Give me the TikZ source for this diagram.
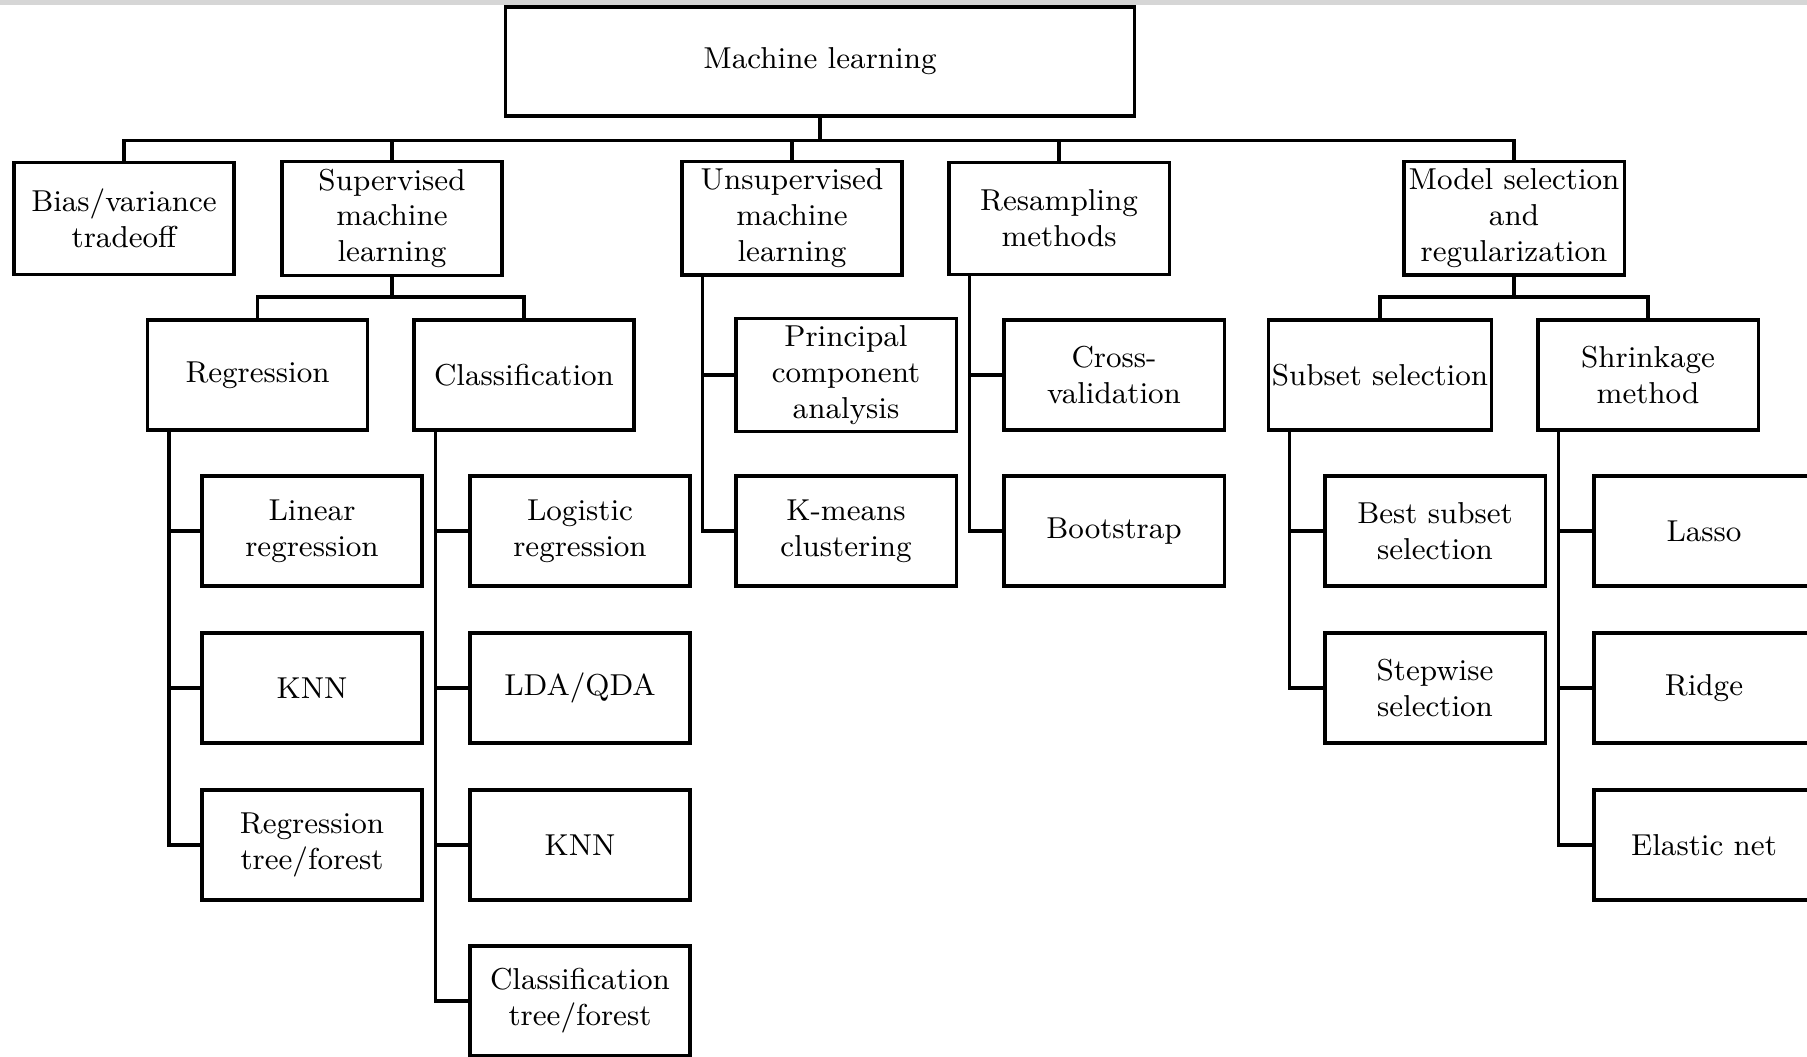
\documentclass[tikz,border=0pt]{standalone}

\tikzset{
  mlbox/.style={draw, line width=0.9pt, minimum width=2.2cm, minimum height=1.1cm,
    align=center, inner xsep=1pt, inner ysep=2pt,
    font=\fontsize{8.6}{10.2}\selectfont},
  topbox/.style={mlbox, minimum height=1.12cm},
  link/.style={line width=0.9pt},
}

\begin{document}
\begin{tikzpicture}[x=0.01cm, y=-0.01cm]

    % moldura da figura
    \useasboundingbox (0,0) rectangle (1807,1056);
    \fill[black!16] (0,0) rectangle (1807,4.5);

    % raiz
    \node[mlbox, minimum width=6.28cm, minimum height=1.09cm] (root) at (820,61.5) {Machine learning};

    % primeiro nível
    \node[topbox] (bias)   at (124,218.4)  {Bias/variance\\tradeoff};
    \node[topbox] (sup)    at (392,218.4)  {Supervised\\machine\\learning};
    \node[topbox] (unsup)  at (792,218.4)  {Unsupervised\\machine\\learning};
    \node[topbox] (resamp) at (1059,218.4) {Resampling\\methods};
    \node[topbox] (modsel) at (1514,218.4) {Model selection\\and\\regularization};

    % segundo nível
    \node[mlbox] (reg)    at (257.6,375) {Regression};
    \node[mlbox] (cls)    at (524,375)   {Classification};
    \node[mlbox] (pca)    at (846,375)   {Principal\\component\\analysis};
    \node[mlbox] (cv)     at (1114,375)  {Cross-\\validation};
    \node[mlbox] (subset) at (1380,375)  {Subset selection};
    \node[mlbox] (shrink) at (1648,375)  {Shrinkage\\method};

    % terceiro nível
    \node[mlbox] (lin)    at (312,531)  {Linear\\regression};
    \node[mlbox] (knnr)   at (312,688)  {KNN};
    \node[mlbox] (rtree)  at (312,845)  {Regression\\tree/forest};
    \node[mlbox] (logit)  at (580,531)  {Logistic\\regression};
    \node[mlbox] (lda)    at (580,688)  {LDA/QDA};
    \node[mlbox] (knnc)   at (580,845)  {KNN};
    \node[mlbox] (ctree)  at (580,1001) {Classification\\tree/forest};
    \node[mlbox] (kmeans) at (846,531)  {K-means\\clustering};
    \node[mlbox] (boot)   at (1114,531) {Bootstrap};
    \node[mlbox] (best)   at (1435,531) {Best subset\\selection};
    \node[mlbox] (stepsel) at (1435,688) {Stepwise\\selection};
    \node[mlbox] (lasso)  at (1704,531) {Lasso};
    \node[mlbox] (ridge)  at (1704,688) {Ridge};
    \node[mlbox] (enet)   at (1704,845) {Elastic net};

    % barramentos
    \coordinate (bus)    at (820,140.6);
    \coordinate (supbus) at (392,297);
    \coordinate (modbus) at (1514,297);

    \draw[link] (root.south) -- (bus);
    \foreach \n in {bias,sup,unsup,resamp,modsel}
        \draw[link] (\n.north) |- (bus);

    \draw[link] (sup.south) -- (supbus);
    \draw[link] (reg.north) |- (supbus);
    \draw[link] (cls.north) |- (supbus);

    \draw[link] (modsel.south) -- (modbus);
    \draw[link] (subset.north) |- (modbus);
    \draw[link] (shrink.north) |- (modbus);

    % troncos laterais
    \foreach \c in {lin,knnr,rtree}
        \draw[link] ([xshift=0.23cm]reg.south west) |- (\c.west);
    \foreach \c in {logit,lda,knnc,ctree}
        \draw[link] ([xshift=0.23cm]cls.south west) |- (\c.west);
    \foreach \c in {pca,kmeans}
        \draw[link] ([xshift=0.22cm]unsup.south west) |- (\c.west);
    \foreach \c in {cv,boot}
        \draw[link] ([xshift=0.22cm]resamp.south west) |- (\c.west);
    \foreach \c in {best,stepsel}
        \draw[link] ([xshift=0.23cm]subset.south west) |- (\c.west);
    \foreach \c in {lasso,ridge,enet}
        \draw[link] ([xshift=0.22cm]shrink.south west) |- (\c.west);

\end{tikzpicture}
\end{document}
